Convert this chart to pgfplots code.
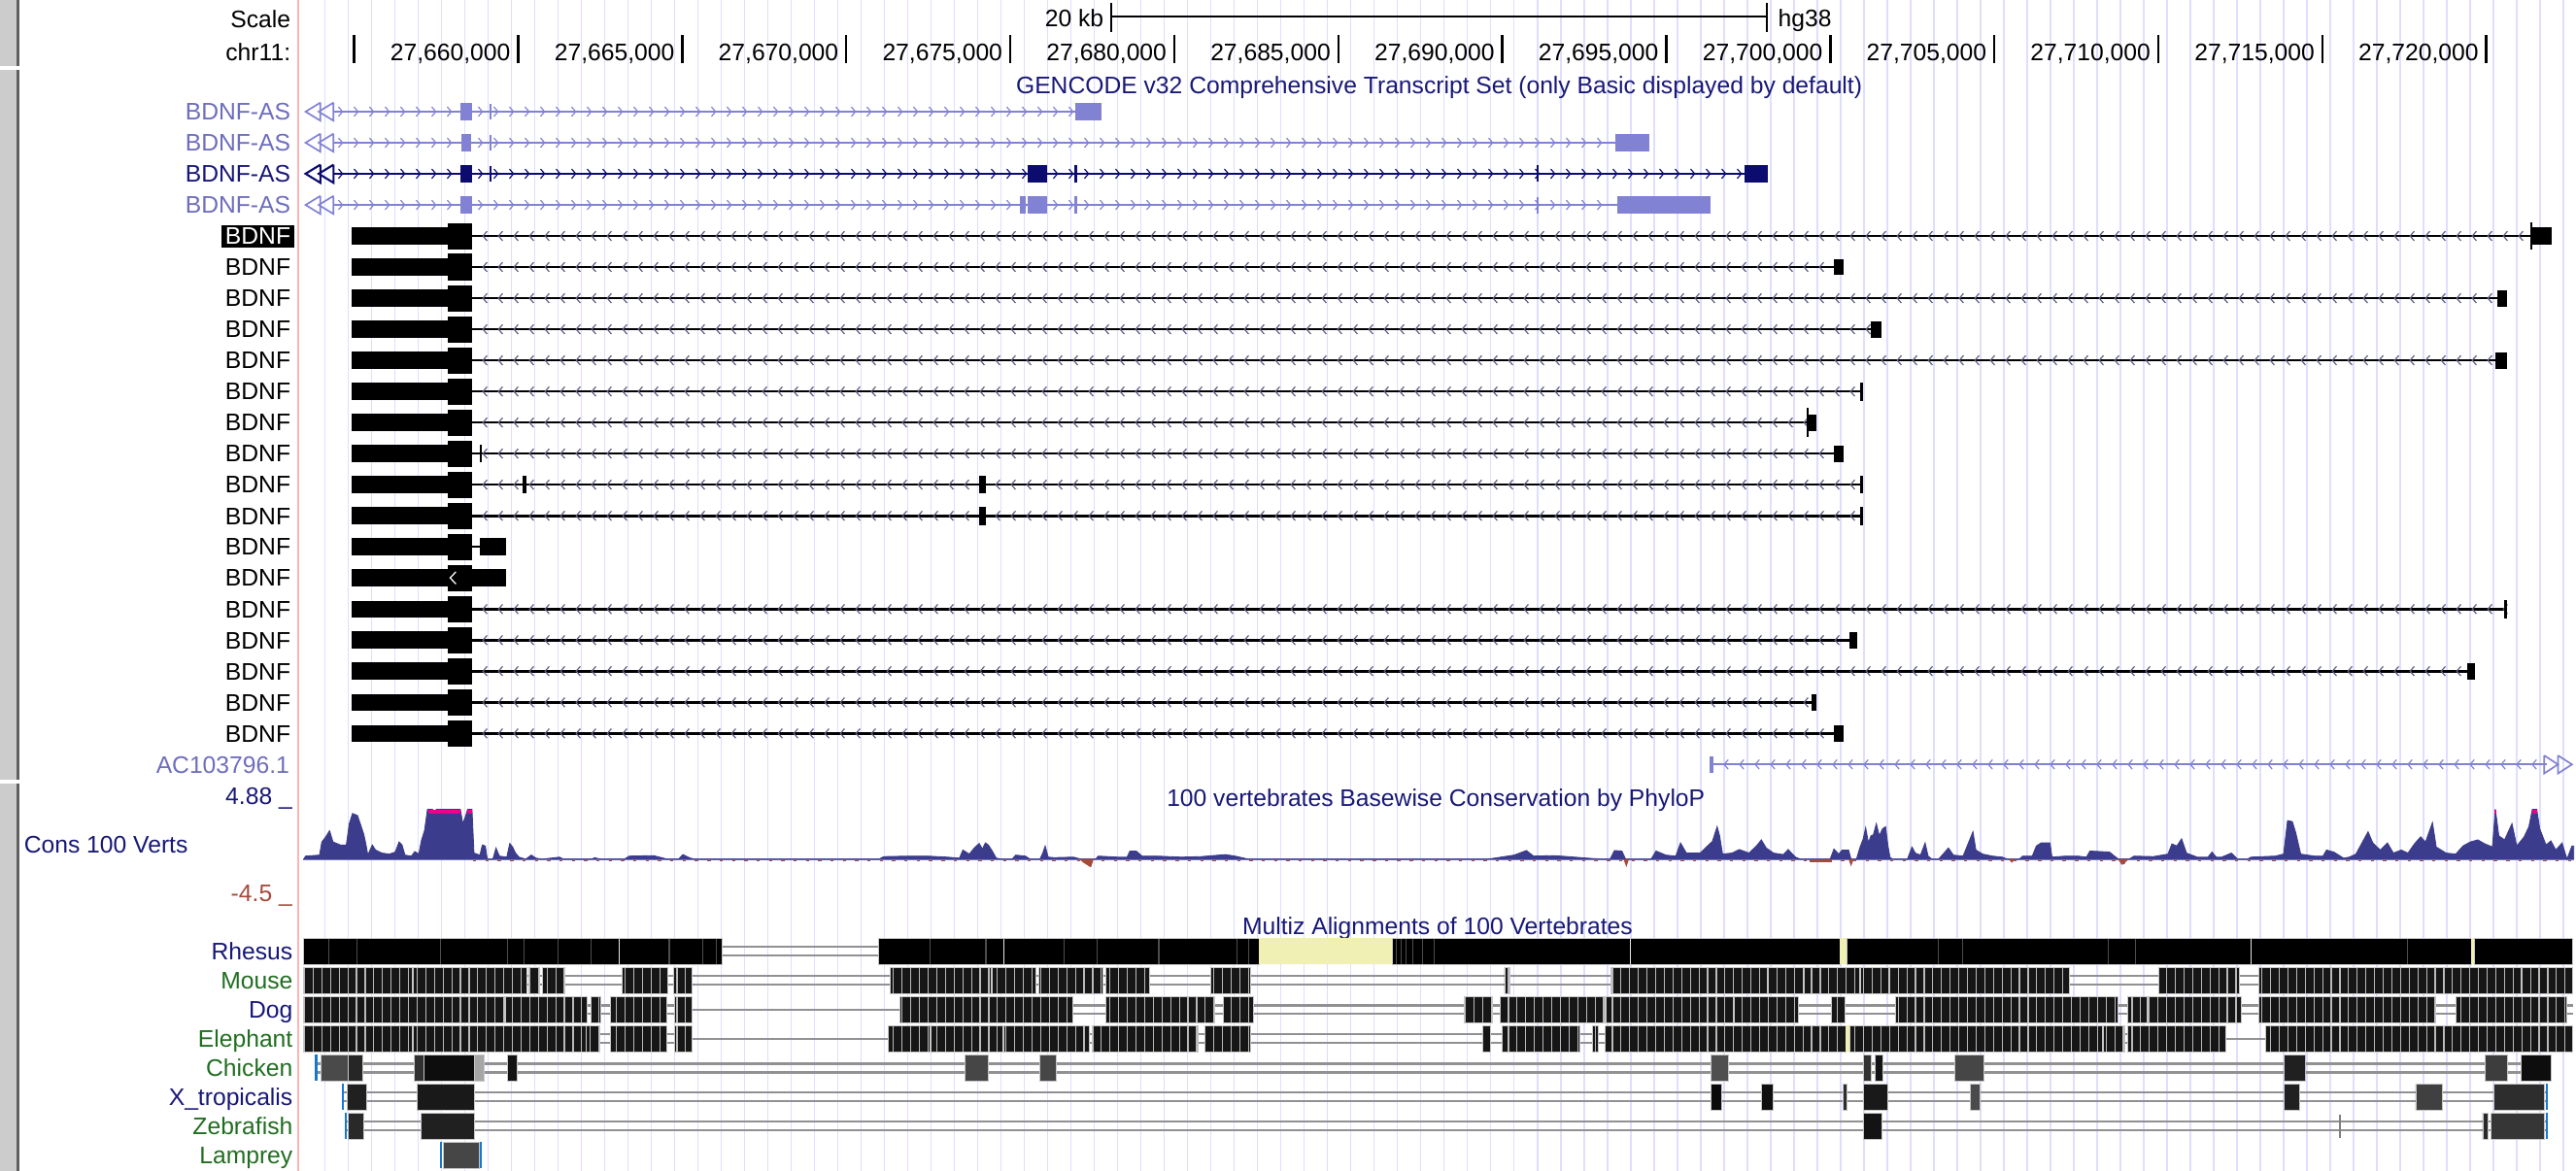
\documentclass[border=0pt]{standalone}
\usepackage{fontspec}
\setmainfont{Liberation Sans}
\usepackage{pgfplots}
\pgfplotsset{compat=1.18}
\usetikzlibrary{decorations.markings,arrows.meta,patterns}
\definecolor{navy}{RGB}{24,24,120}
\definecolor{grn}{RGB}{32,110,32}
\definecolor{lav}{RGB}{130,130,212}
\definecolor{labl}{RGB}{110,110,190}
\definecolor{dnavy}{RGB}{12,12,110}
\definecolor{gridc}{RGB}{222,222,255}
\definecolor{pinkl}{RGB}{255,180,180}
\definecolor{consb}{RGB}{60,60,140}
\definecolor{consr}{RGB}{165,75,60}
\definecolor{basel}{RGB}{120,120,190}
\definecolor{yel}{RGB}{240,240,180}
\definecolor{gapg}{RGB}{145,145,145}
\definecolor{startb}{RGB}{20,120,210}
\definecolor{sideg}{RGB}{204,204,204}
\definecolor{chevc}{RGB}{95,95,130}
\definecolor{mzd}{RGB}{22,22,22}
\newcommand{\lf}{\fontsize{8.3}{9}\selectfont}
\tikzset{
 chevL/.style={postaction={decorate,decoration={markings,mark=between positions 1.2mm and 1 step 1.892mm with {\arrowreversed{Straight Barb[length=0.5mm,width=1.15mm,line width=0.14mm,color=#1]}}}}},
 chevR/.style={postaction={decorate,decoration={markings,mark=between positions 1.2mm and 1 step 1.892mm with {\arrow{Straight Barb[length=0.5mm,width=1.15mm,line width=0.14mm,color=#1]}}}}},
}
% box: x1 x2 ycenter halfheight colour
\newcommand{\bx}[5]{\pgfmathsetmacro\ya{#3-#4}\pgfmathsetmacro\yb{#3+#4}%
 \addplot[fill=#5,draw=none] coordinates {(#1,\ya)(#2,\ya)(#2,\yb)(#1,\yb)};}
% tick: x ycenter halfheight width colour
\newcommand{\tk}[5]{\pgfmathsetmacro\xa{#1-#4/2}\pgfmathsetmacro\xb{#1+#4/2}\bx{\xa}{\xb}{#2}{#3}{#5}}
% patterned multiz block: x1 x2 ycenter
\newcommand{\mzp}[3]{\pgfmathsetmacro\ya{#3-8}\pgfmathsetmacro\yb{#3+8}%
 \addplot[fill=mzd,draw=gray!45,line width=0.1mm,postaction={pattern=vertical lines,pattern color=gray!55}] coordinates {(#1,\ya)(#2,\ya)(#2,\yb)(#1,\yb)(#1,\ya)};}
% plain multiz block
\newcommand{\mzb}[4]{\pgfmathsetmacro\ya{#3-8}\pgfmathsetmacro\yb{#3+8}%
 \addplot[fill=#4,draw=gray!45,line width=0.1mm] coordinates {(#1,\ya)(#2,\ya)(#2,\yb)(#1,\yb)(#1,\ya)};}
% double gap line
\newcommand{\gl}[3]{\pgfmathsetmacro\ya{#3-2.65}\pgfmathsetmacro\yb{#3+2.65}%
 \addplot[gapg,line width=0.28mm] coordinates {(#1,\ya)(#2,\ya)(#2,nan)(#1,\yb)(#2,\yb)};}
\newcommand{\sgl}[3]{\addplot[gapg,line width=0.28mm] coordinates {(#1,#3)(#2,#3)};}
% BDNF transcript body
\newcommand{\bdnf}[2]{%
 \addplot[black,line width=0.3mm,chevL=chevc] coordinates {(287.5,#1)(#2,#1)};
 \bx{213.9}{272.6}{#1}{5.2}{black}
 \bx{272.6}{287.5}{#1}{8}{black}}
\newcommand{\lft}[3]{% open double chevron at the left edge: y colour
 \pgfmathsetmacro\ya{#1-5.5}\pgfmathsetmacro\yb{#1+5.5}%
 \addplot[#2,line width=#3] coordinates {(195,\ya)(186,#1)(195,\yb)(195,\ya)};
 \addplot[#2,line width=#3] coordinates {(203,\ya)(194,#1)(203,\yb)(203,\ya)};}
\begin{document}
\begin{tikzpicture}
\begin{axis}[name=main, scale only axis, width=313.6mm, height=142.6mm,
 xmin=0, xmax=1568, ymin=0, ymax=713, y dir=reverse,
 axis line style={draw=none}, axis background/.style={fill=white},
 xtick={197.9,212.09,...,1568}, xticklabels={}, xticklabel style={inner sep=0pt},
 ytick=\empty, major tick length=0pt,
 xmajorgrids, major grid style={draw=gridc,line width=0.18mm},
 unbounded coords=jump, clip=false]

% side bar and left border
\addplot[fill=sideg,draw=none] coordinates {(0,0)(10.2,0)(10.2,40.4)(0,40.4)};
\addplot[fill=sideg,draw=none] coordinates {(0,42.8)(10.2,42.8)(10.2,474.7)(0,474.7)};
\addplot[fill=sideg,draw=none] coordinates {(0,477)(10.2,477)(10.2,713)(0,713)};
\addplot[gray!75!black,line width=0.3mm] coordinates {(10.9,0)(10.9,40.4)(10.9,nan)(10.9,42.8)(10.9,474.7)(10.9,nan)(10.9,477)(10.9,713)};
\addplot[pinkl,line width=0.2mm] coordinates {(181.6,0)(181.6,713)};

% ruler
\addplot[black,line width=0.25mm] coordinates {(676.5,9.9)(1075.6,9.9)};
\addplot[black,line width=0.3mm] coordinates {(676.5,1.6)(676.5,19.7)(676.5,nan)(1075.6,1.6)(1075.6,19.7)};
\addplot[black,line width=0.3mm] coordinates {(215.6,21.3)(215.6,38.4)(215.6,nan)(315.4,21.3)(315.4,38.4)(315.4,nan)(415.3,21.3)(415.3,38.4)(415.3,nan)(515.1,21.3)(515.1,38.4)(515.1,nan)(614.9,21.3)(614.9,38.4)(614.9,nan)(714.8,21.3)(714.8,38.4)(714.8,nan)(814.6,21.3)(814.6,38.4)(814.6,nan)(914.4,21.3)(914.4,38.4)(914.4,nan)(1014.2,21.3)(1014.2,38.4)(1014.2,nan)(1114.1,21.3)(1114.1,38.4)(1114.1,nan)(1213.9,21.3)(1213.9,38.4)(1213.9,nan)(1313.7,21.3)(1313.7,38.4)(1313.7,nan)(1413.6,21.3)(1413.6,38.4)(1413.6,nan)(1513.4,21.3)(1513.4,38.4)};
\node[anchor=base east,font=\lf,inner sep=0pt] at (axis cs:177.2,16.8) {Scale};
\node[anchor=base east,font=\lf,inner sep=0pt] at (axis cs:177.2,36.8) {chr11:};
\node[anchor=base east,font=\lf,inner sep=0pt] at (axis cs:672.1,16.4) {20 kb};
\node[anchor=base west,font=\lf,inner sep=0pt] at (axis cs:1082,16.4) {hg38};
\node[anchor=base east,font=\lf,inner sep=0pt] at (axis cs:311.0,36.8) {27,660,000};
\node[anchor=base east,font=\lf,inner sep=0pt] at (axis cs:410.9,36.8) {27,665,000};
\node[anchor=base east,font=\lf,inner sep=0pt] at (axis cs:510.7,36.8) {27,670,000};
\node[anchor=base east,font=\lf,inner sep=0pt] at (axis cs:610.5,36.8) {27,675,000};
\node[anchor=base east,font=\lf,inner sep=0pt] at (axis cs:710.4,36.8) {27,680,000};
\node[anchor=base east,font=\lf,inner sep=0pt] at (axis cs:810.2,36.8) {27,685,000};
\node[anchor=base east,font=\lf,inner sep=0pt] at (axis cs:910.0,36.8) {27,690,000};
\node[anchor=base east,font=\lf,inner sep=0pt] at (axis cs:1009.8,36.8) {27,695,000};
\node[anchor=base east,font=\lf,inner sep=0pt] at (axis cs:1109.7,36.8) {27,700,000};
\node[anchor=base east,font=\lf,inner sep=0pt] at (axis cs:1209.5,36.8) {27,705,000};
\node[anchor=base east,font=\lf,inner sep=0pt] at (axis cs:1309.3,36.8) {27,710,000};
\node[anchor=base east,font=\lf,inner sep=0pt] at (axis cs:1409.2,36.8) {27,715,000};
\node[anchor=base east,font=\lf,inner sep=0pt] at (axis cs:1509.0,36.8) {27,720,000};

% GENCODE track
\node[anchor=base,font=\lf,inner sep=0pt,text=navy] at (axis cs:876,56.8) {GENCODE v32 Comprehensive Transcript Set (only Basic displayed by default)};
% BDNF-AS row 0
\addplot[lav,line width=0.25mm,chevR=lav] coordinates {(203,68)(654.5,68)};
\lft{68}{lav}{0.2mm}
\bx{280.4}{287.3}{68}{5.3}{lav}
\tk{298.7}{68}{4.5}{1}{lav}
\bx{654.5}{670.4}{68}{5.3}{lav}
% row 1
\addplot[lav,line width=0.25mm,chevR=lav] coordinates {(203,86.9)(983,86.9)};
\lft{86.9}{lav}{0.2mm}
\bx{280.8}{286.5}{86.9}{5.3}{lav}
\tk{298.7}{86.9}{4.5}{1}{lav}
\bx{983}{1004}{86.9}{5.3}{lav}
% row 2
\addplot[dnavy,line width=0.28mm,chevR=dnavy] coordinates {(203,105.8)(1062,105.8)};
\lft{105.8}{dnavy}{0.25mm}
\bx{280.4}{287.3}{105.8}{5.3}{dnavy}
\tk{298.7}{105.8}{4.5}{1}{dnavy}
\bx{625.8}{637.5}{105.8}{5.3}{dnavy}
\tk{654.6}{105.8}{5.3}{1.6}{dnavy}
\tk{936}{105.8}{5}{1}{dnavy}
\bx{1062}{1076}{105.8}{5.3}{dnavy}
% row 3
\addplot[lav,line width=0.25mm,chevR=lav] coordinates {(203,124.8)(984.4,124.8)};
\lft{124.8}{lav}{0.2mm}
\bx{280.4}{287.3}{124.8}{5.3}{lav}
\bx{621}{624.5}{124.8}{5.3}{lav}
\bx{625.8}{637.5}{124.8}{5.3}{lav}
\tk{654.6}{124.8}{5.3}{1.6}{lav}
\tk{936}{124.8}{5}{1}{lav}
\bx{984.4}{1041.4}{124.8}{5.3}{lav}
\node[anchor=base east,font=\lf,inner sep=0pt,text=labl] at (axis cs:177.2,73.2) {BDNF-AS};
\node[anchor=base east,font=\lf,inner sep=0pt,text=labl] at (axis cs:177.2,92.1) {BDNF-AS};
\node[anchor=base east,font=\lf,inner sep=0pt,text=navy] at (axis cs:177.2,111.0) {BDNF-AS};
\node[anchor=base east,font=\lf,inner sep=0pt,text=labl] at (axis cs:177.2,130.0) {BDNF-AS};

% BDNF rows
\bdnf{143.7}{1540.7} \tk{1540.7}{143.7}{8.5}{1.3}{black} \bx{1541}{1553}{143.7}{5.2}{black}
\bdnf{162.6}{1116.5} \bx{1116.5}{1122.2}{162.6}{5}{black}
\bdnf{181.6}{1519.8} \bx{1519.8}{1525.7}{181.6}{5}{black}
\bdnf{200.5}{1139} \bx{1139}{1145}{200.5}{5}{black}
\bdnf{219.4}{1518.8} \bx{1518.8}{1525.7}{219.4}{5}{black}
\bdnf{238.4}{1133} \tk{1133}{238.4}{5.5}{2}{black}
\bdnf{257.3}{1100.3} \tk{1100.3}{257.3}{9}{1.3}{black} \bx{1100.3}{1105.9}{257.3}{5}{black}
\bdnf{276.2}{1116.5} \tk{292.6}{276.2}{5.2}{1.4}{black} \bx{1116.5}{1122.2}{276.2}{5}{black}
\bdnf{295.1}{1133} \tk{319.1}{295.1}{5.5}{2.2}{black} \bx{595.8}{600}{295.1}{5.5}{black} \tk{1133}{295.1}{5.5}{2}{black}
\bdnf{314.1}{1133} \bx{595.8}{600}{314.1}{5.5}{black} \tk{1133}{314.1}{5.5}{2}{black}
\addplot[black,line width=0.3mm] coordinates {(287.5,333)(292,333)};
\bx{213.9}{272.6}{333}{5.2}{black} \bx{272.6}{287.5}{333}{8}{black} \bx{292}{308.2}{333}{5.2}{black}
\bx{213.9}{272.6}{351.9}{5.2}{black} \bx{272.6}{287.5}{351.9}{8}{black} \bx{287.5}{308.2}{351.9}{5.2}{black}
\addplot[white,line width=0.15mm] coordinates {(277.5,348.2)(274,351.9)(277.5,355.6)};
\bdnf{370.9}{1525.3} \tk{1525.3}{370.9}{5.5}{1.6}{black}
\bdnf{389.8}{1126} \bx{1126}{1130.5}{389.8}{5}{black}
\bdnf{408.7}{1502} \bx{1502}{1506.6}{408.7}{5}{black}
\bdnf{427.7}{1102.5} \bx{1102.5}{1105.9}{427.7}{5}{black}
\bdnf{446.6}{1116.5} \bx{1116.5}{1122.2}{446.6}{5}{black}
\node[anchor=base east,font=\lf,fill=black,text=white,inner xsep=0.44mm,inner ysep=0.39mm] at (axis cs:179.4,148.9) {BDNF};
\node[anchor=base east,font=\lf,inner sep=0pt] at (axis cs:177.2,167.8) {BDNF};
\node[anchor=base east,font=\lf,inner sep=0pt] at (axis cs:177.2,186.8) {BDNF};
\node[anchor=base east,font=\lf,inner sep=0pt] at (axis cs:177.2,205.7) {BDNF};
\node[anchor=base east,font=\lf,inner sep=0pt] at (axis cs:177.2,224.6) {BDNF};
\node[anchor=base east,font=\lf,inner sep=0pt] at (axis cs:177.2,243.6) {BDNF};
\node[anchor=base east,font=\lf,inner sep=0pt] at (axis cs:177.2,262.5) {BDNF};
\node[anchor=base east,font=\lf,inner sep=0pt] at (axis cs:177.2,281.4) {BDNF};
\node[anchor=base east,font=\lf,inner sep=0pt] at (axis cs:177.2,300.3) {BDNF};
\node[anchor=base east,font=\lf,inner sep=0pt] at (axis cs:177.2,319.3) {BDNF};
\node[anchor=base east,font=\lf,inner sep=0pt] at (axis cs:177.2,338.2) {BDNF};
\node[anchor=base east,font=\lf,inner sep=0pt] at (axis cs:177.2,357.1) {BDNF};
\node[anchor=base east,font=\lf,inner sep=0pt] at (axis cs:177.2,376.1) {BDNF};
\node[anchor=base east,font=\lf,inner sep=0pt] at (axis cs:177.2,395.0) {BDNF};
\node[anchor=base east,font=\lf,inner sep=0pt] at (axis cs:177.2,413.9) {BDNF};
\node[anchor=base east,font=\lf,inner sep=0pt] at (axis cs:177.2,432.9) {BDNF};
\node[anchor=base east,font=\lf,inner sep=0pt] at (axis cs:177.2,451.8) {BDNF};
% AC103796.1
\addplot[lav,line width=0.25mm,chevL=lav] coordinates {(1043,465.5)(1550,465.5)};
\tk{1041.8}{465.5}{5}{2.7}{lav}
\addplot[lav,line width=0.2mm] coordinates {(1548.6,460)(1557,465.5)(1548.6,471)(1548.6,460)};
\addplot[lav,line width=0.2mm] coordinates {(1557,460)(1565.5,465.5)(1557,471)(1557,460)};
\node[anchor=base east,font=\lf,inner sep=0pt,text=labl] at (axis cs:176.5,470.7) {AC103796.1};

% Conservation labels
\node[anchor=base,font=\lf,inner sep=0pt,text=navy] at (axis cs:874,491.2) {100 vertebrates Basewise Conservation by PhyloP};
\node[anchor=base west,font=\lf,inner sep=0pt,text=navy] at (axis cs:14.3,519.2) {Cons 100 Verts};
\node[anchor=base east,font=\lf,inner sep=0pt,text=navy] at (axis cs:178.2,489.6) {4.88 \_};
\node[anchor=base east,font=\lf,inner sep=0pt,text=consr] at (axis cs:178.2,549.2) {-4.5 \_};

% Multiz
\node[anchor=base,font=\lf,inner sep=0pt,text=navy] at (axis cs:875,569) {Multiz Alignments of 100 Vertebrates};
% gap lines
\gl{439.6}{535}{579.3}
\gl{185}{1566}{597.0}
\gl{185}{421}{614.8} \sgl{421}{548}{614.8} \gl{548}{1566}{614.8}
\gl{185}{421}{632.5} \sgl{421}{541}{632.5} \gl{541}{1354.7}{632.5} \sgl{1354.7}{1379.2}{632.5} \gl{1379.2}{1566}{632.5}
\gl{192.5}{1552.7}{650.3}
\gl{208.8}{1550.3}{668.0}
\gl{210.5}{1550.3}{685.7}
% Rhesus
\mzb{185}{439.6}{579.3}{black} \mzb{535}{766.5}{579.3}{black} \mzb{847.3}{1120}{579.3}{black}
\mzb{1124}{1504.4}{579.3}{black} \mzb{1506.1}{1566}{579.3}{black}
\bx{766.5}{847.3}{579.3}{8}{yel} \bx{1120}{1124}{579.3}{8}{yel} \bx{1504.4}{1506.1}{579.3}{8}{yel}
\addplot[gray!60!black,line width=0.15mm] coordinates {(200.3,571.6)(200.3,587)(200.3,nan)(217.3,571.6)(217.3,587)(217.3,nan)(268.2,571.6)(268.2,587)(268.2,nan)(309,571.6)(309,587)(309,nan)(319.1,571.6)(319.1,587)(319.1,nan)(339.5,571.6)(339.5,587)(339.5,nan)(359.9,571.6)(359.9,587)(359.9,nan)(407.4,571.6)(407.4,587)(407.4,nan)(427.7,571.6)(427.7,587)(427.7,nan)(436.2,571.6)(436.2,587)(436.2,nan)(566.2,571.6)(566.2,587)(566.2,nan)(600.1,571.6)(600.1,587)(600.1,nan)(647.6,571.6)(647.6,587)(647.6,nan)(668,571.6)(668,587)(668,nan)(705.3,571.6)(705.3,587)(705.3,nan)(752.9,571.6)(752.9,587)(752.9,nan)(760,571.6)(760,587)(760,nan)(850,571.6)(850,587)(850,nan)(853,571.6)(853,587)(853,nan)(856,571.6)(856,587)(856,nan)(860,571.6)(860,587)(860,nan)(866,571.6)(866,587)(866,nan)(873,571.6)(873,587)(873,nan)(1180,571.6)(1180,587)(1180,nan)(1194.8,571.6)(1194.8,587)(1194.8,nan)(1283.3,571.6)(1283.3,587)(1283.3,nan)(1300,571.6)(1300,587)(1300,nan)(1465.3,571.6)(1465.3,587)};
\addplot[gray!20,line width=0.15mm] coordinates {(376.8,571.6)(376.8,587)(376.8,nan)(611,571.6)(611,587)(611,nan)(992.2,571.6)(992.2,587)(992.2,nan)(1370,571.6)(1370,587)};
% Mouse
\mzp{185}{251.2}{597} \mzp{251.7}{320.8}{597} \mzp{321.8}{328.6}{597} \mzp{330}{343.6}{597}
\mzp{378.5}{406.7}{597} \mzp{410.1}{421}{597} \mzp{541.7}{603.5}{597} \mzp{604}{630.7}{597}
\mzp{632.4}{671.4}{597} \mzp{673.1}{699.6}{597} \mzp{736.9}{761.4}{597} \mzp{915.8}{919.2}{597}
\mzp{980.3}{1075.7}{597} \mzp{1076.2}{1097.8}{597} \mzp{1098.3}{1131.9}{597} \mzp{1132.4}{1149.9}{597}
\mzp{1150.4}{1259.4}{597} \mzp{1313.9}{1363.2}{597} \mzp{1375.1}{1534.3}{597} \mzp{1535}{1566}{597}
% Dog
\mzp{185}{307.2}{614.8} \mzp{307.7}{357.2}{614.8} \mzp{359.9}{365.6}{614.8} \mzp{371.7}{405.7}{614.8}
\mzp{410.8}{421}{614.8} \mzp{547.5}{652.7}{614.8} \mzp{673.1}{739.3}{614.8} \mzp{744.4}{763.1}{614.8}
\mzp{891.4}{908.4}{614.8} \mzp{913.1}{977}{614.8} \mzp{977.5}{1055.3}{614.8} \mzp{1055.8}{1094.4}{614.8}
\mzp{1114.8}{1123.3}{614.8} \mzp{1154}{1289.4}{614.8} \mzp{1295.2}{1307.1}{614.8} \mzp{1307.6}{1364.2}{614.8}
\mzp{1375.1}{1482.3}{614.8} \mzp{1494.9}{1562.2}{614.8}
% Elephant
\mzp{185}{251.2}{632.5} \mzp{251.7}{356.5}{632.5} \mzp{357}{365}{632.5} \mzp{371.7}{405.7}{632.5}
\mzp{410.8}{421}{632.5} \mzp{540.7}{566.2}{632.5} \mzp{566.7}{610.3}{632.5} \mzp{610.8}{662.9}{632.5}
\mzp{664.6}{729.1}{632.5} \mzp{733.2}{761.4}{632.5} \mzp{902.3}{907.3}{632.5} \mzp{914.1}{961.7}{632.5}
\mzp{969.5}{972.6}{632.5} \mzp{977}{1123.4}{632.5} \mzp{1126.1}{1279.8}{632.5} \mzp{1280.3}{1293.5}{632.5}
\mzp{1295.2}{1354.7}{632.5} \mzp{1379.2}{1566}{632.5}
\bx{1123.6}{1126}{632.5}{8}{yel}
% Chicken
\mzb{195.2}{212.2}{650.3}{gray!58!black} \mzb{212.2}{220.7}{650.3}{gray!30!black} \mzb{251.9}{258}{650.3}{gray!38!black}
\mzb{258}{288.6}{650.3}{gray!10!black} \mzb{288.6}{294.7}{650.3}{gray!70} \mzb{309}{315}{650.3}{gray!15!black}
\mzb{587.5}{601.8}{650.3}{gray!55!black} \mzb{633}{643.2}{650.3}{gray!55!black} \mzb{1041.7}{1051.9}{650.3}{gray!62!black}
\mzb{1134.2}{1138.7}{650.3}{gray!40!black} \mzb{1141.4}{1146.2}{650.3}{gray!15!black} \mzb{1189.7}{1207.4}{650.3}{gray!55!black}
\mzb{1390.4}{1403.3}{650.3}{gray!25!black} \mzb{1512.9}{1526.5}{650.3}{gray!48!black} \mzb{1534.3}{1552.7}{650.3}{gray!10!black}
% X_tropicalis
\mzb{211.2}{223.4}{668}{gray!25!black} \mzb{254}{288.6}{668}{gray!20!black} \mzb{1041.7}{1047.8}{668}{gray!8!black}
\mzb{1072.3}{1079.1}{668}{gray!12!black} \mzb{1121.6}{1124.4}{668}{gray!35!black} \mzb{1134.2}{1148.9}{668}{gray!20!black}
\mzb{1199.2}{1205}{668}{gray!58!black} \mzb{1390.4}{1399.6}{668}{gray!25!black} \mzb{1470.4}{1486.7}{668}{gray!50!black}
\mzb{1518}{1548.6}{668}{gray!35!black}
% Zebrafish
\mzb{212.2}{221.4}{685.7}{gray!32!black} \mzb{256.3}{288.6}{685.7}{gray!25!black} \mzb{1134.2}{1145.5}{685.7}{gray!15!black}
\tk{1424.4}{685.7}{7}{1.2}{gray}
\mzb{1511.2}{1514.6}{685.7}{gray!32!black} \mzb{1516.3}{1548.6}{685.7}{gray!42!black}
% Lamprey
\mzb{270}{292}{703.5}{gray!55!black}
% alignment start/end markers
\tk{192.5}{650.3}{8}{1.3}{startb}
\tk{208.8}{668}{8}{1.3}{startb} \tk{1550.3}{668}{8}{1.3}{startb}
\tk{210.5}{685.7}{8}{1.3}{startb} \tk{1550.3}{685.7}{8}{1.3}{startb}
\tk{268.2}{703.5}{8}{1.3}{startb} \tk{292.6}{703.5}{8}{1.3}{startb}
\node[anchor=base east,font=\lf,inner sep=0pt,text=navy] at (axis cs:178.5,584.5) {Rhesus};
\node[anchor=base east,font=\lf,inner sep=0pt,text=grn] at (axis cs:178.5,602.2) {Mouse};
\node[anchor=base east,font=\lf,inner sep=0pt,text=navy] at (axis cs:178.5,620.0) {Dog};
\node[anchor=base east,font=\lf,inner sep=0pt,text=grn] at (axis cs:178.5,637.7) {Elephant};
\node[anchor=base east,font=\lf,inner sep=0pt,text=grn] at (axis cs:178.5,655.5) {Chicken};
\node[anchor=base east,font=\lf,inner sep=0pt,text=navy] at (axis cs:178.5,673.2) {X\_tropicalis};
\node[anchor=base east,font=\lf,inner sep=0pt,text=grn] at (axis cs:178.5,690.9) {Zebrafish};
\node[anchor=base east,font=\lf,inner sep=0pt,text=grn] at (axis cs:178.5,708.7) {Lamprey};
\end{axis}

% PhyloP conservation values
\begin{axis}[at={(main.north west)}, anchor=north west, yshift=-98.6mm,
 scale only axis, width=313.6mm, height=11.6mm,
 xmin=0, xmax=1568, ymin=-4.5, ymax=4.88, hide axis, unbounded coords=jump]
\addplot[basel,line width=0.2mm] coordinates {(184.5,0)(1566.6,0)};
\addplot[consr,line width=0.22mm,dash pattern=on 0.4mm off 1.1mm] coordinates {(288,-0.16)(1566,-0.16)};
\addplot[fill=consb,draw=consb,line width=0.1mm] coordinates {
(184.9,0)(186,0.3)(194.5,0.4)(195.9,1.7)(198.3,2.2)(200.6,2.8)(202.7,1.7)(207.2,1.4)(210.8,1.4)(212.6,3.5)(214.6,4.5)(217.6,4.3)(219.7,3.3)(221.5,2.4)(222.7,1.5)(223.9,0.4)(226.6,1.4)(228.6,0.9)(232.5,0.6)(237,0.5)(240.6,0.7)(242.9,1.7)(244.7,1.4)(246.5,0.4)(250.4,0.3)(252.5,0.75)(254.9,0.5)(256.6,1.9)(258.4,2.8)(260.2,4.9)(263.3,4.9)(263.8,4.4)(265.6,4.9)(280.2,4.9)(281.7,3.5)(283.5,4.3)(284.6,4.9)(287.3,4.9)(288.5,0.6)(292.1,0.4)(293.6,1.4)(295.4,1.3)(296.6,0)(300,0)(301.9,1.1)(304,0.3)(308.5,0.2)(310.3,1.55)(312,1.2)(313.8,0.6)(315.9,0.2)(320,0)(323.4,0.4)(326.3,0.1)(330,0)(340.6,0.2)(343,0)(360,0)(362.1,0.15)(365,0)(380,0)(383,0.3)(397.8,0.35)(403.8,0.1)(406,0)(413,0)(415.7,0.45)(420.2,0.1)(423,0)
(535,0)(537.9,0.25)(552.8,0.3)(564.7,0.3)(576.6,0.2)(584,0.1)(586.1,0.9)(590,0.5)(593,1.1)(596,1.55)(598,1.0)(599.8,1.6)(601.6,1.4)(604,0.8)(606.4,0.1)(610,0)(616,0)(618.3,0.4)(624.2,0.3)(627,0)(633,0)(634.7,0.6)(636.2,1.3)(638,0.2)(641.6,0.15)(653.5,0.2)(658,0)(667,0)(668.4,0.3)(680.3,0.2)(686,0.2)(687.8,0.8)(691.6,0.8)(695.2,0.3)(704.2,0.3)(719.1,0.2)(731,0.25)(745.9,0.45)(751.8,0.3)(760,0)
(905,0)(909.7,0.1)(921.6,0.4)(929.1,0.85)(933.5,0.3)(945.5,0.35)(954.4,0.25)(966.3,0.1)(975,0)(980,0)(982.7,0.85)(987.2,0.8)(989.5,0)(1005,0)(1008,0.8)(1014,0.4)(1020,0.3)(1022.9,1.6)(1026.5,0.6)(1034.8,0.6)(1039.3,1.3)(1042.3,1.75)(1045.2,3.2)(1046.7,2.3)(1048.5,0.5)(1054.2,0.6)(1058.7,0.95)(1064.6,0.6)(1069.1,1.3)(1072.1,1.9)(1075.1,1.1)(1079.5,0.6)(1085.5,0.45)(1088.4,0.95)(1092.9,0.2)(1095.9,0)
(1114,0)(1116.3,1.0)(1119.2,0.5)(1121.3,0.9)(1125.2,0.9)(1126.7,0)(1130,0)(1132,1.1)(1134.1,2.0)(1135.6,3.1)(1137.3,1.6)(1138.8,2.3)(1140.3,2.4)(1142.1,3.5)(1143.9,2.3)(1145.9,3.0)(1147.7,3.2)(1149.2,1.3)(1150.4,0.2)(1152,0)(1161,0)(1163.8,1.2)(1165.8,0.6)(1169,0.4)(1171.8,1.6)(1173.6,0.3)(1176,0)(1180,0)(1181.6,0.3)(1186,1.1)(1189,0.4)(1194.9,0.3)(1200.9,2.7)(1202.7,0.9)(1206.8,0.5)(1212.8,0.3)(1218.7,0.2)(1222,0)(1229,0)(1231.2,0.3)(1237,0.3)(1239.5,1.3)(1242.4,1.6)(1247.8,1.6)(1249,0.2)(1257.3,0.3)(1264.7,0.3)(1270,0.2)(1272.1,0.8)(1284,0.7)(1289.4,0)(1296,0)(1298.9,0.3)(1310.7,0.25)(1319.6,0.5)(1322,1.5)(1325,1.3)(1327.9,2.0)(1330.9,0.6)(1337.4,0.2)(1344,0.2)(1346.4,0.7)(1349,0.2)(1352.3,0.2)(1358.2,0.6)(1362,0)(1368,0)(1370.1,0.2)(1385,0.3)(1390,0.5)(1392.4,3.8)(1395.3,3.7)(1397.4,2.6)(1400.4,0.5)(1408.7,0.3)(1414,0.3)(1416.1,0.9)(1420.6,0.7)(1426.5,0.1)(1430,0.2)(1434,0.5)(1441.4,2.7)(1444.3,1.6)(1448.8,0.9)(1453.2,1.6)(1456.8,0.6)(1461.6,0.9)(1465.7,0.6)(1469.6,1.5)(1473.4,2.2)(1476.4,1.7)(1480.6,3.6)(1482.9,1.2)(1488.9,0.6)(1494.8,0.5)(1499.2,1.3)(1503.7,1.7)(1508.2,1.9)(1512.6,1.5)(1517.1,1.2)(1518.9,4.9)(1521,2.3)(1524.5,1.9)(1529,3.5)(1531.9,1.3)(1536.4,2.2)(1539.3,3.2)(1541.4,4.9)(1544.1,4.9)(1545.9,3.0)(1549.7,1.4)(1552.7,1.8)(1555.7,0.9)(1559.5,1.6)(1562.5,0)(1565.5,1.3)(1566.6,1.3)(1566.6,0)};
\addplot[fill=consr,draw=consr,line width=0.1mm] coordinates {(657.5,0)(659.5,-0.3)(663.9,-0.75)(665.4,0)};
\addplot[fill=consr,draw=consr,line width=0.1mm] coordinates {(988.5,0)(989.9,-0.65)(991.3,0)};
\addplot[fill=consr,draw=consr,line width=0.1mm] coordinates {(1102,0)(1102,-0.25)(1114.8,-0.25)(1114.8,0)};
\addplot[fill=consr,draw=consr,line width=0.1mm] coordinates {(1125.5,0)(1126.7,-0.6)(1128,0)};
\addplot[fill=consr,draw=consr,line width=0.1mm] coordinates {(1223,0)(1224.6,-0.3)(1226,0)};
\addplot[fill=consr,draw=consr,line width=0.1mm] coordinates {(1289.5,0)(1291.5,-0.5)(1293,-0.45)(1294.5,0)};
\addplot[magenta,line width=0.5mm] coordinates {(260.5,4.66)(280,4.66)(280,nan)(284.6,4.66)(287.3,4.66)(287.3,nan)(1518.3,4.66)(1519.5,4.66)(1519.5,nan)(1541.4,4.66)(1544.1,4.66)};
\end{axis}
\pgfresetboundingbox
\path[use as bounding box] (main.south west) rectangle (main.north east);
\end{tikzpicture}
\end{document}
